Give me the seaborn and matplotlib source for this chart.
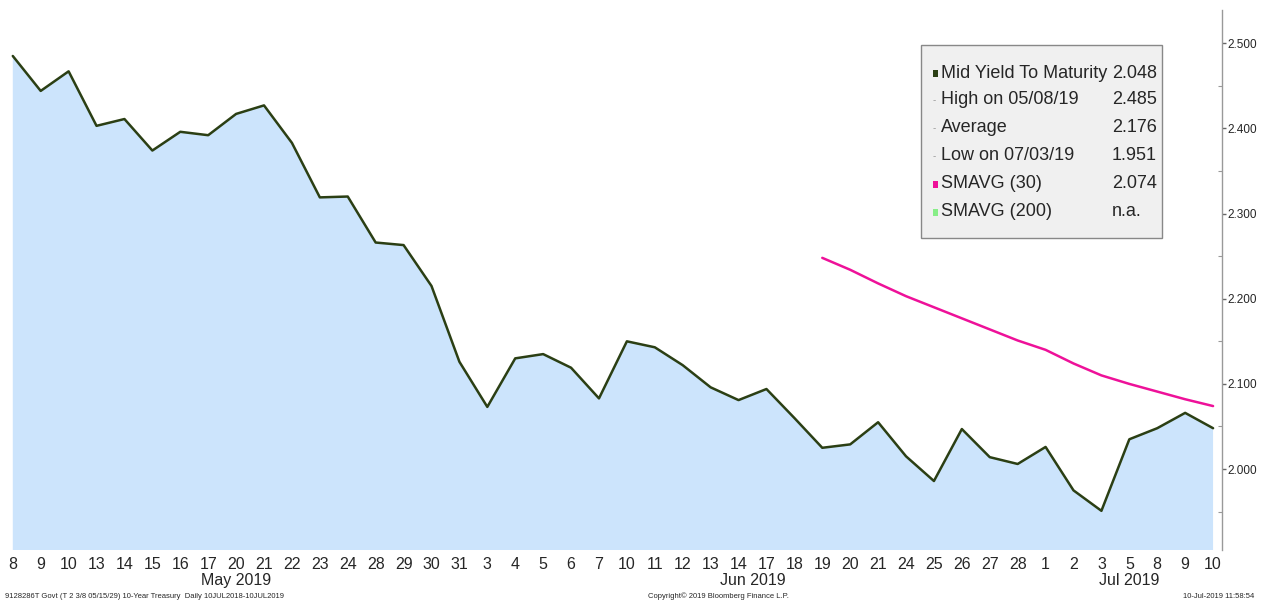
import matplotlib
matplotlib.use('Agg')
import matplotlib.pyplot as plt
import matplotlib.patches as patches
import numpy as np
import pandas as pd
import seaborn as sns

# trading days, 8 May 2019 - 10 Jul 2019
days = [8, 9, 10, 13, 14, 15, 16, 17, 20, 21, 22, 23, 24, 28, 29, 30, 31,
        3, 4, 5, 6, 7, 10, 11, 12, 13, 14, 17, 18, 19, 20, 21, 24, 25, 26, 27, 28,
        1, 2, 3, 5, 8, 9, 10]
months = ['May 2019'] * 17 + ['Jun 2019'] * 20 + ['Jul 2019'] * 7

yld = [2.485, 2.444, 2.467, 2.403, 2.411, 2.374, 2.396, 2.392, 2.417, 2.427,
       2.383, 2.319, 2.320, 2.266, 2.263, 2.215, 2.126,
       2.073, 2.130, 2.135, 2.119, 2.083, 2.150, 2.143, 2.122, 2.096, 2.081,
       2.094, 2.060, 2.025, 2.029, 2.055, 2.015, 1.986, 2.047, 2.014, 2.006,
       2.026, 1.975, 1.951, 2.035, 2.048, 2.066, 2.048]

# 30-day simple moving average, shown from 19 Jun onward
sma30 = [2.248, 2.234, 2.218, 2.203, 2.190, 2.177, 2.164, 2.151,
         2.140, 2.124, 2.110, 2.100, 2.091, 2.082, 2.074]
sma_start = 29

legend_rows = [('Mid Yield To Maturity', '2.048', '#2b3f14'),
               ('High on 05/08/19', '2.485', None),
               ('Average', '2.176', None),
               ('Low on 07/03/19', '1.951', None),
               ('SMAVG (30)', '2.074', '#ee1199'),
               ('SMAVG (200)', 'n.a.', '#88ee88')]

sns.set_style('white')
plt.rcParams['font.family'] = ['Liberation Sans', 'DejaVu Sans']

df = pd.DataFrame({'i': np.arange(len(yld)), 'yld': yld, 'day': days, 'month': months})
sma = pd.DataFrame({'i': np.arange(sma_start, sma_start + len(sma30)), 'sma': sma30})

fig = plt.figure(figsize=(12.62, 6), dpi=100)
ax = fig.add_axes([10 / 1262, 50 / 600, 1212 / 1262, 540 / 600])

ax.fill_between(df['i'], df['yld'], 1.0, color='#cce4fc', lw=0)
sns.lineplot(data=df, x='i', y='yld', ax=ax, color='#2b3f14', lw=1.8)
sns.lineplot(data=sma, x='i', y='sma', ax=ax, color='#ee1199', lw=1.8)

ax.set_xlim(-0.1, len(yld) - 1 + 0.32)
ax.set_ylim(1.905, 2.539)
ax.set_xlabel('')
ax.set_ylabel('')

for s in ['top', 'left', 'bottom']:
    ax.spines[s].set_visible(False)
ax.spines['right'].set_color('#999999')
ax.spines['right'].set_linewidth(1)

ax.yaxis.tick_right()
major = [2.0, 2.1, 2.2, 2.3, 2.4, 2.5]
ax.set_yticks(major)
ax.set_yticklabels(['%.3f' % v for v in major])
ax.set_yticks(np.arange(1.95, 2.54, 0.1), minor=True)
ax.tick_params(axis='y', which='major', direction='out', length=3, width=1,
               color='#666666', labelsize=8.5, pad=1, right=True, left=False)
ax.tick_params(axis='y', which='minor', direction='in', length=3, width=0.8,
               color='#999999', right=True, left=False)

ax.set_xticks(df['i'])
ax.set_xticklabels([str(d) for d in days])
ax.tick_params(axis='x', length=0, labelsize=11.5, pad=5)

# month labels centred under their days
for m in ['May 2019', 'Jun 2019', 'Jul 2019']:
    c = df.loc[df['month'] == m, 'i'].mean()
    ax.text(c, -0.057, m, transform=ax.get_xaxis_transform(), ha='center',
            va='center', fontsize=11.5)

# legend box
ax_px = lambda x, y: (x / 1262, 1 - y / 600)
x0, y0 = ax_px(921, 238)
x1, y1 = ax_px(1162, 45)
fig.patches.append(patches.Rectangle((x0, y0), x1 - x0, y1 - y0, transform=fig.transFigure,
                                     facecolor='#f0f0f0', edgecolor='#888888', lw=1, zorder=5))
rows_y = [73, 100, 128, 156, 184, 212]
for (lab, val, col), ry in zip(legend_rows, rows_y):
    tx, ty = ax_px(941, ry)
    vx, _ = ax_px(1112, ry)
    fig.text(tx, ty, lab, fontsize=13, va='center', ha='left', zorder=6)
    fig.text(vx, ty, val, fontsize=13, va='center', ha='left', zorder=6)
    mx, my = ax_px(933, ry + 4)
    if col is not None:
        fig.patches.append(patches.Rectangle((mx, my), 5 / 1262, 7 / 600, transform=fig.transFigure,
                                             facecolor=col, edgecolor='none', zorder=6))
    else:
        fig.text(mx, ty, '-', fontsize=7, color='#999999', va='center', zorder=6)

# footer
fig.text(5 / 1262, 1 - 596 / 600,
         '9128286T Govt (T 2 3/8 05/15/29) 10-Year Treasury  Daily 10JUL2018-10JUL2019',
         fontsize=5.5, va='center', ha='left')
fig.text(718 / 1262, 1 - 596 / 600, 'Copyright\u00a9 2019 Bloomberg Finance L.P.', fontsize=5.5,
         va='center', ha='center')
fig.text(1254 / 1262, 1 - 596 / 600, '10-Jul-2019 11:58:54', fontsize=5.5, va='center', ha='right')

fig.savefig('out.png', dpi=100)
